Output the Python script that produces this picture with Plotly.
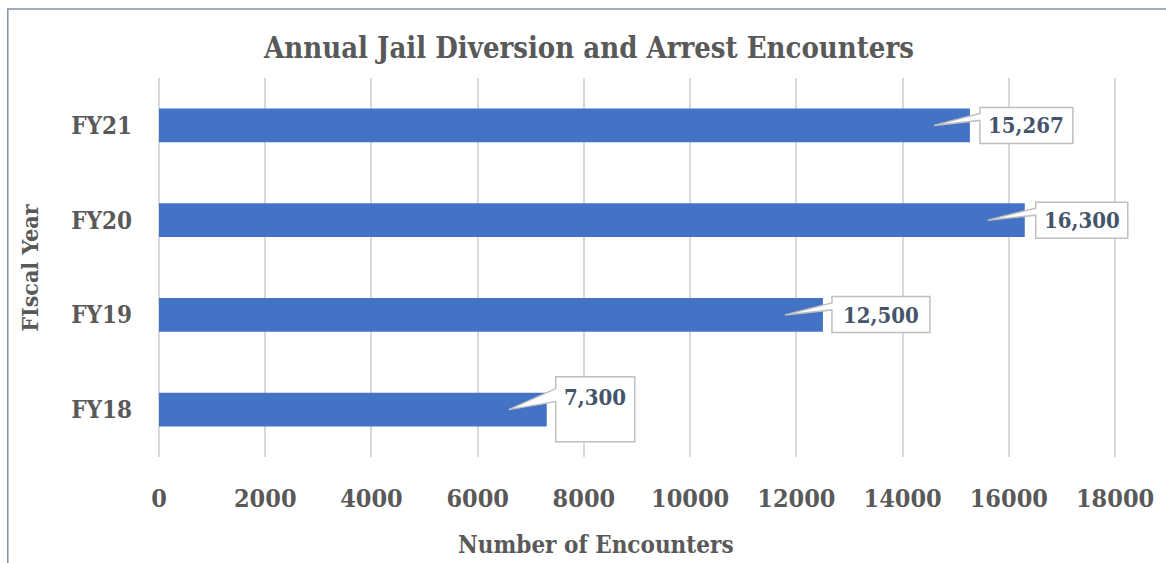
import plotly.graph_objects as go

categories = ["FY18", "FY19", "FY20", "FY21"]
encounters = [7300, 12500, 16300, 15267]
value_labels = ["7,300", "12,500", "16,300", "15,267"]
x_ticks = [0, 2000, 4000, 6000, 8000, 10000, 12000, 14000, 16000, 18000]

FONT = "DejaVu Serif Condensed, DejaVu Serif, serif"
GRAY = "#595959"
LABEL = "#44546A"

# callout geometry in pixels relative to (bar end, bar centre)
callouts = [
    dict(L=9, R=88, T=33, B=-32, tip=-38, hi=21, lo=8, ty=13),
    dict(L=9, R=107, T=18.5, B=-17.5, tip=-38, hi=12, lo=5, ty=0),
    dict(L=11, R=103, T=18, B=-18, tip=-37, hi=12, lo=5, ty=0),
    dict(L=10, R=103, T=18, B=-18, tip=-36, hi=12, lo=5, ty=0),
]

PX_PER_UNIT = 961 / 18000
X_MAX = 18300
plot_w = X_MAX * PX_PER_UNIT
L_M, T_M, B_M = 159, 78, 106
R_M = 1166 - L_M - plot_w
plot_h = 563 - T_M - B_M

fig = go.Figure()
fig.add_trace(go.Bar(
    y=categories, x=encounters, orientation="h",
    marker=dict(color="#4472C4", line=dict(width=0)),
    width=0.355, hoverinfo="skip",
))

shapes = []
annotations = []
for cat, val, lab, c in zip(categories, encounters, value_labels, callouts):
    path = (f"M {c['L']},{c['T']} L {c['R']},{c['T']} L {c['R']},{c['B']} L {c['L']},{c['B']} "
            f"L {c['L']},{c['lo']} L {c['tip']},0 L {c['L']},{c['hi']} Z")
    shapes.append(dict(type="path", xref="x", yref="y", xsizemode="pixel", ysizemode="pixel",
                       xanchor=val, yanchor=cat, path=path,
                       fillcolor="white", line=dict(color="#BFBFBF", width=1.5), layer="above"))
    annotations.append(dict(x=val, y=cat, xref="x", yref="y", text=f"<b>{lab}</b>", showarrow=False,
                            xanchor="center", yanchor="middle",
                            xshift=(c['L'] + c['R']) / 2, yshift=c['ty'],
                            font=dict(family=FONT, size=22, color=LABEL)))

def px(xpix):
    return (xpix - L_M) / plot_w

def py(ypix):
    return 1 - (ypix - T_M) / plot_h

# chart frame
shapes.append(dict(type="rect", xref="paper", yref="paper", x0=px(7), x1=px(1180), y0=py(600), y1=py(9),
                   line=dict(color="#8393A7", width=1.5), fillcolor="rgba(0,0,0,0)", layer="below"))

annotations.append(dict(x=px(591), y=py(48), xref="paper", yref="paper",
                        text="<b>Annual Jail Diversion and Arrest Encounters</b>", showarrow=False,
                        xanchor="center", yanchor="middle", font=dict(family=FONT, size=29, color=GRAY)))
annotations.append(dict(x=px(598), y=py(544), xref="paper", yref="paper",
                        text="<b>Number of Encounters</b>", showarrow=False,
                        xanchor="center", yanchor="middle", font=dict(family=FONT, size=24, color=GRAY)))
annotations.append(dict(x=px(28), y=py(268), xref="paper", yref="paper",
                        text="<b>FIscal Year</b>", showarrow=False, textangle=-90,
                        xanchor="center", yanchor="middle", font=dict(family=FONT, size=23, color=GRAY)))

fig.update_layout(
    width=1166, height=563,
    margin=dict(l=L_M, r=R_M, t=T_M, b=B_M, pad=0),
    paper_bgcolor="white", plot_bgcolor="white",
    showlegend=False,
    shapes=shapes, annotations=annotations,
    font=dict(family=FONT, color=GRAY),
)
fig.update_xaxes(range=[0, X_MAX], tickvals=x_ticks, ticktext=[str(v) for v in x_ticks],
                 showgrid=True, gridcolor="#D9D9D9", gridwidth=1.5,
                 zeroline=True, zerolinecolor="#D9D9D9", zerolinewidth=1.5,
                 showline=False, ticks="", ticklabelstandoff=24,
                 tickfont=dict(family=FONT, size=25, color=GRAY, weight="bold"))
fig.update_yaxes(categoryorder="array", categoryarray=categories,
                 showgrid=False, zeroline=False, showline=False, ticks="", ticklabelstandoff=26,
                 tickfont=dict(family=FONT, size=24, color=GRAY, weight="bold"))

fig.write_html("out.html", config={"displayModeBar": False},
               post_script="document.body.style.margin='0';document.body.style.overflow='hidden';")
